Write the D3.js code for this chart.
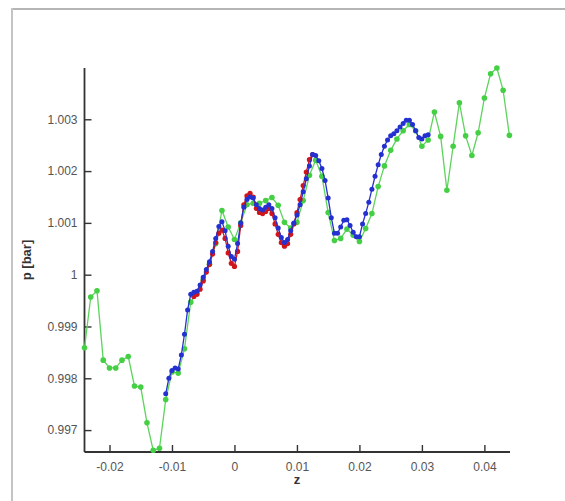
<!DOCTYPE html>
<html><head><meta charset="utf-8">
<script src="https://cdn.jsdelivr.net/npm/d3@7"></script>
<style>body{margin:0;background:#fff}svg{display:block}</style>
</head><body>
<svg id="c" width="565" height="501"></svg>
<script>
// ---- data ----
const greenStart = -0.024, greenStep = 0.001;
const greenP = [0.99859,0.99957,0.99969,0.99835,0.99820,0.99820,0.99835,0.99842,0.99785,0.99783,
 0.99714,0.99661,0.99665,0.99759,0.99812,0.99810,0.99857,0.99947,0.99965,0.99990,
 1.00020,1.00060,1.00124,1.00092,1.00068,1.00100,1.00135,1.00138,1.00138,1.00143,
 1.00149,1.00134,1.00101,1.00090,1.00101,1.00143,1.00192,1.00221,1.00190,1.00120,
 1.00066,1.00070,1.00088,1.00076,1.00064,1.00089,1.00118,1.00170,1.00210,1.00240,
 1.00262,1.00278,1.00290,1.00278,1.00248,1.00260,1.00314,1.00267,1.00163,1.00248,
 1.00332,1.00268,1.00230,1.00274,1.00341,1.00388,1.00399,1.00356,1.00269];
const blueStart = -0.011, blueStep = 0.0005;
const blueP = [0.99770,0.99800,0.99815,0.99820,0.99818,0.99845,0.99885,0.99932,0.99962,0.99966,
 0.99968,0.99980,0.99995,1.00010,1.00025,1.00045,1.00070,1.00093,1.00102,1.00085,
 1.00055,1.00035,1.00030,1.00060,1.00100,1.00130,1.00145,1.00150,1.00148,1.00135,
 1.00128,1.00125,1.00130,1.00135,1.00128,1.00110,1.00090,1.00072,1.00062,1.00068,
 1.00085,1.00100,1.00115,1.00135,1.00160,1.00185,1.00210,1.00232,1.00230,1.00220,
 1.00205,1.00182,1.00148,1.00110,1.00080,1.00080,1.00092,1.00105,1.00106,1.00095,
 1.00082,1.00073,1.00073,1.00098,1.00118,1.00140,1.00165,1.00190,1.00212,1.00232,
 1.00248,1.00260,1.00268,1.00272,1.00278,1.00285,1.00292,1.00298,1.00298,1.00290,
 1.00278,1.00265,1.00262,1.00268,1.00270];
const redStart = -0.0065, redStep = 0.0005;
const redP = [0.99958,0.99962,0.99972,0.99988,1.00005,1.00020,1.00040,1.00062,1.00080,1.00086,
 1.00070,1.00042,1.00022,1.00016,1.00045,1.00095,1.00135,1.00152,1.00157,1.00150,
 1.00128,1.00120,1.00118,1.00122,1.00128,1.00118,1.00098,1.00078,1.00062,1.00055,
 1.00060,1.00078,1.00098,1.00120,1.00145,1.00172,1.00198,1.00222,1.00232];
const xTicks = [-0.02,-0.01,0,0.01,0.02,0.03,0.04];
const xTickLabels = ["-0.02","-0.01","0","0.01","0.02","0.03","0.04"];
const yTicks = [0.997,0.998,0.999,1,1.001,1.002,1.003];
const yTickLabels = ["0.997","0.998","0.999","1","1.001","1.002","1.003"];

const toPts = (start, step, arr) => arr.map((p,i)=>({z:+(start+i*step).toFixed(5), p}));
const series = [
  {name:"green", color:"#45cf45", line:"#5cd45c", r:2.8, pts:toPts(greenStart,greenStep,greenP)},
  {name:"red", color:"#d0161a", line:"#d0161a", r:2.6, pts:toPts(redStart,redStep,redP)},
  {name:"blue", color:"#2430d0", line:"#2430d0", r:2.5, pts:toPts(blueStart,blueStep,blueP)}
];

// ---- layout ----
const svg = d3.select("#c");
const L = 84.5, R = 510, T = 68, B = 452;
const x = d3.scaleLinear().domain([-0.024, 0.0441]).range([L, R]);
const y = d3.scaleLinear().domain([0.996577, 1.00399]).range([B, T]);

// frame
svg.append("line").attr("x1",11).attr("x2",565).attr("y1",9).attr("y2",9).attr("stroke","#b5b5b5").attr("stroke-width",2);
svg.append("line").attr("x1",12).attr("x2",12).attr("y1",8).attr("y2",501).attr("stroke","#c4c4c4").attr("stroke-width",2);

const font = "Liberation Sans, Arial, sans-serif";
// axes
const xa = svg.append("g").attr("transform",`translate(0,${B})`)
  .call(d3.axisBottom(x).tickValues(xTicks).tickSizeInner(-7).tickSizeOuter(0)
    .tickFormat((d,i)=>xTickLabels[i]).tickPadding(10));
const ya = svg.append("g").attr("transform",`translate(${L},0)`)
  .call(d3.axisLeft(y).tickValues(yTicks).tickSizeInner(-7).tickSizeOuter(0)
    .tickFormat((d,i)=>yTickLabels[i]).tickPadding(7));
[xa,ya].forEach(g=>{
  g.select(".domain").attr("stroke","#333").attr("stroke-width",1.8);
  g.selectAll(".tick line").attr("stroke","#333").attr("stroke-width",1.4);
  g.selectAll(".tick text").attr("fill","#555").attr("font-family",font).attr("font-size",12);
});
ya.select(".domain").attr("d",`M0,${T}V${B}`);
xa.select(".domain").attr("d",`M${L},0H${R}`);

// axis titles
svg.append("text").attr("x",297).attr("y",484).attr("text-anchor","middle")
  .attr("font-family",font).attr("font-weight","bold").attr("font-size",13).attr("fill","#333").text("z");
svg.append("text").attr("transform","translate(31,260) rotate(-90)").attr("text-anchor","middle")
  .attr("font-family",font).attr("font-weight","bold").attr("font-size",13).attr("fill","#333").text("p [bar]");

// series
const line = d3.line().x(d=>x(d.z)).y(d=>y(d.p));
series.forEach(s=>{
  const g = svg.append("g");
  g.append("path").datum(s.pts).attr("d",line).attr("fill","none").attr("stroke",s.line).attr("stroke-width",1.3);
  g.selectAll("circle").data(s.pts).join("circle")
    .attr("cx",d=>x(d.z)).attr("cy",d=>y(d.p)).attr("r",s.r).attr("fill",s.color);
});
</script>
</body></html>
